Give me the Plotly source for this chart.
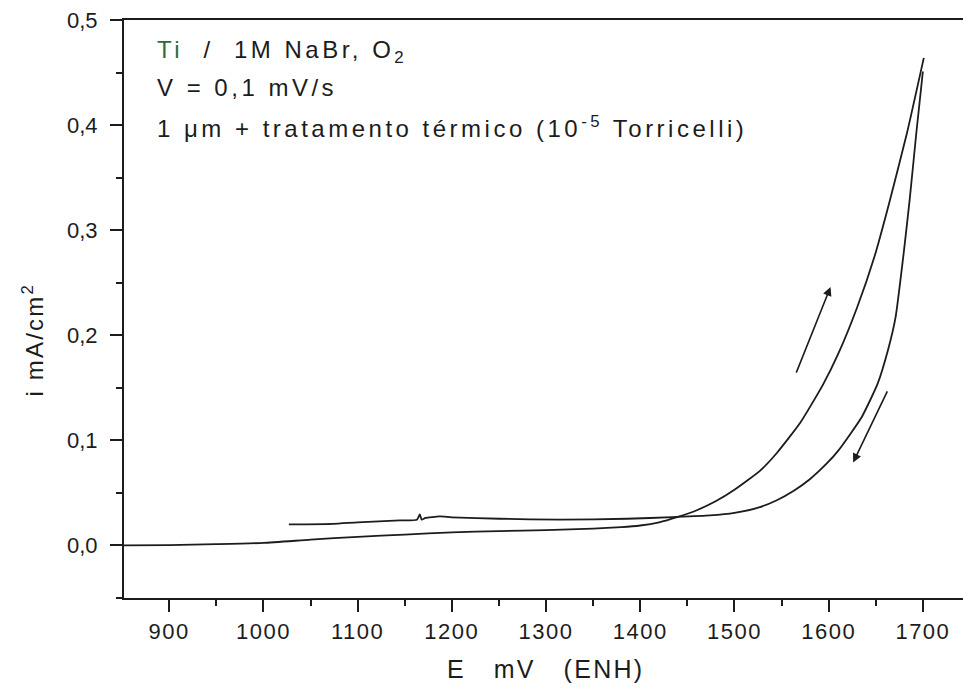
import plotly.graph_objects as go

# Anodic sweep (forward): potential in mV vs ENH, current density in mA/cm2
forward_E = [852, 900, 950, 1000, 1050, 1100, 1150, 1200, 1250, 1300, 1350, 1380, 1400,
             1420, 1440, 1460, 1480, 1500, 1527, 1545, 1570, 1594, 1610, 1630, 1649,
             1664, 1683, 1701]
forward_i = [0.0, 0.0004, 0.0012, 0.0024, 0.0055, 0.0082, 0.0103, 0.0125, 0.0136, 0.0146,
             0.0160, 0.0174, 0.0190, 0.0220, 0.0272, 0.0335, 0.0420, 0.0530, 0.071, 0.088,
             0.117, 0.153, 0.182, 0.226, 0.276, 0.325, 0.392, 0.464]

# Cathodic sweep (reverse)
reverse_E = [1700, 1693, 1686, 1680, 1671, 1663, 1652, 1635, 1610, 1598, 1580, 1563,
             1545, 1527, 1500, 1474, 1435, 1386, 1315, 1251, 1200, 1187, 1172, 1168,
             1166, 1163, 1145, 1100, 1074, 1027]
reverse_i = [0.451, 0.392, 0.329, 0.281, 0.217, 0.186, 0.154, 0.122, 0.090, 0.078, 0.063,
             0.052, 0.043, 0.0365, 0.031, 0.0286, 0.027, 0.0254, 0.0245, 0.0254, 0.0268,
             0.0276, 0.0262, 0.0245, 0.0295, 0.0245, 0.0238, 0.022, 0.0206, 0.020]

# Sweep-direction arrows: (tail E, tail i, head E, head i)
arrow_up = (1565, 0.163, 1602, 0.246)
arrow_down = (1663, 0.148, 1626, 0.079)

x_ticks = [900, 1000, 1100, 1200, 1300, 1400, 1500, 1600, 1700]
x_ticktext = ["900", "1000", "1100", "1200", "1300", "1400", "1500", "1600", "1700"]
y_ticks = [0.0, 0.1, 0.2, 0.3, 0.4, 0.5]
y_ticktext = ["0,0", "0,1", "0,2", "0,3", "0,4", "0,5"]

info_lines = [
    "<span style='color:#2f6a3c'>Ti</span>\u00a0\u00a0/\u00a0\u00a01M NaBr, O<sub>2</sub>",
    "V = 0,1 mV/s",
    "1 \u03bcm + tratamento térmico (10<sup>-5</sup> Torricelli)",
]


def spaced(txt, px):
    return "<span style='letter-spacing:%.1fpx'>%s</span>" % (px, txt)


FONT = "Liberation Sans, Arial, Helvetica, sans-serif"
INK = "#1c1c1c"

fig = go.Figure()
fig.add_trace(go.Scatter(x=forward_E, y=forward_i, mode="lines",
                         line=dict(color=INK, width=1.8, shape="spline", smoothing=0.5),
                         showlegend=False, hoverinfo="skip"))
fig.add_trace(go.Scatter(x=reverse_E, y=reverse_i, mode="lines",
                         line=dict(color=INK, width=1.8, shape="spline", smoothing=0.5),
                         showlegend=False, hoverinfo="skip"))

annotations = []
for tail_x, tail_y, head_x, head_y in (arrow_up, arrow_down):
    annotations.append(dict(x=head_x, y=head_y, ax=tail_x, ay=tail_y,
                            xref="x", yref="y", axref="x", ayref="y",
                            text="", showarrow=True, arrowhead=2, arrowsize=1.1,
                            arrowwidth=1.6, arrowcolor=INK))

line_y = [0.946, 0.884, 0.815]
for txt, yy in zip(info_lines, line_y):
    annotations.append(dict(x=0.037, y=yy, xref="paper", yref="paper",
                            xanchor="left", yanchor="middle", showarrow=False,
                            text=spaced(txt, 3.5),
                            font=dict(family=FONT, size=24, color=INK)))

# axis titles
annotations.append(dict(x=0.5018, y=-0.1228, xref="paper", yref="paper",
                        xanchor="center", yanchor="middle", showarrow=False,
                        text=spaced("E\u00a0\u00a0\u00a0mV\u00a0\u00a0\u00a0(ENH)", 2.3),
                        font=dict(family=FONT, size=25, color=INK)))
annotations.append(dict(x=-0.1085, y=0.447, xref="paper", yref="paper",
                        xanchor="center", yanchor="middle", showarrow=False,
                        textangle=-90, text=spaced("i mA/cm<sup>2</sup>", 2.2),
                        font=dict(family=FONT, size=24, color=INK)))

fig.update_layout(
    width=963, height=689,
    margin=dict(l=124, r=0, t=20, b=91),
    paper_bgcolor="white", plot_bgcolor="white",
    font=dict(family=FONT, color=INK),
    annotations=annotations,
    showlegend=False,
)
fig.update_xaxes(range=[852, 1742.6], tickvals=x_ticks,
                 ticktext=[spaced(t, 1.5) for t in x_ticktext],
                 showgrid=False, zeroline=False,
                 showline=True, linecolor=INK, linewidth=2, mirror=True,
                 ticks="outside", ticklen=12, tickwidth=2, tickcolor=INK,
                 minor=dict(dtick=50, tick0=850, ticks="outside", ticklen=6,
                            tickwidth=2, tickcolor=INK),
                 tickfont=dict(family=FONT, size=22, color=INK), ticklabelstandoff=1)
fig.update_yaxes(range=[-0.05, 0.5], tickvals=y_ticks, ticktext=y_ticktext,
                 showgrid=False, zeroline=False,
                 showline=True, linecolor=INK, linewidth=2,
                 ticks="outside", ticklen=12, tickwidth=2, tickcolor=INK,
                 minor=dict(dtick=0.05, tick0=0, ticks="outside", ticklen=6,
                            tickwidth=2, tickcolor=INK),
                 tickfont=dict(family=FONT, size=22, color=INK), ticklabelstandoff=8)

fig.write_html("out.html")
